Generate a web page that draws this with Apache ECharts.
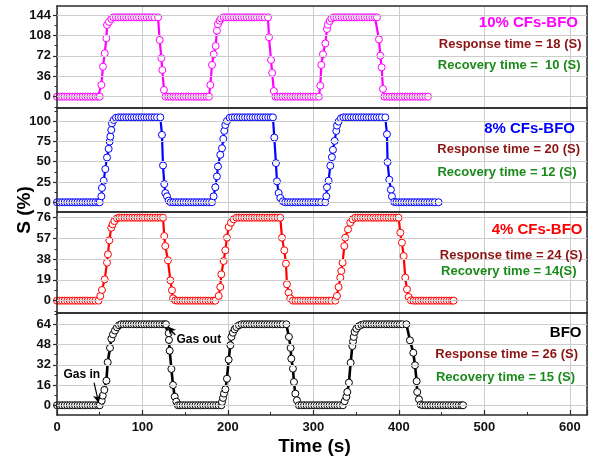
<!DOCTYPE html>
<html>
<head>
<meta charset="utf-8">
<script src="https://cdn.jsdelivr.net/npm/echarts@6/dist/echarts.min.js"></script>
<style>
  html, body { margin: 0; padding: 0; background: #fff; }
  #chart { width: 589px; height: 464px; }
</style>
</head>
<body>
<div id="chart"></div>
<script>
// Gas response curves: time (s) vs sensitivity S (%), one panel per composition.
const cfs10 = [
  [0,0],[3,0],[6,0],[9,0],[12,0],[15,0],[18,0],[21,0],[24,0],[27,0],[30,0],[33,0],[36,0],[39,0],[42,0],[45,0],[48,0],[50,0],
  [51.9,20.6],[53.8,53],[55.8,76.6],[57.8,103],[58.5,126.5],[60.8,132],[63.6,137],[66,140],
  [69,140],[72,140],[75,140],[78,140],[81,140],[84,140],[87,140],[90,140],[93,140],[96,140],[99,140],[102,140],[105,140],[108,140],[111,140],[114,140],[118.2,140],
  [120.1,100],[122.1,68],[123.2,47],[125.1,12],[127,0],
  [130,0],[133,0],[136,0],[139,0],[142,0],[145,0],[148,0],[151,0],[154,0],[157,0],[160,0],[163,0],[166,0],[169,0],[172,0],[175,0],[177.8,0],
  [179.4,20.6],[181.3,56],[183.3,74.8],[185.6,89.4],[187.1,116.4],[188.3,128],[190.3,134],[192,138],
  [195,140],[198,140],[201,140],[204,140],[207,140],[210,140],[213,140],[216,140],[219,140],[222,140],[225,140],[228,140],[231,140],[234,140],[237,140],[240,140],[243,140],[246.8,140],
  [248,104.8],[250.4,64.7],[251.7,42],[253.7,10],[255.4,0],
  [258,0],[261,0],[264,0],[267,0],[270,0],[273,0],[276,0],[279,0],[282,0],[285,0],[288,0],[291,0],[294,0],[297,0],[300,0],[303,0],[306.4,0],
  [308,19.4],[309.2,56],[311.1,74.8],[313.9,94],[315.8,119.4],[316.8,127],[319,133.5],[321,138],
  [324,140],[327,140],[330,140],[333,140],[336,140],[339,140],[342,140],[345,140],[348,140],[351,140],[354,140],[357,140],[360,140],[363,140],[366,140],[369,140],[372,140],[374.3,140],
  [376.6,101],[378.2,72.3],[379.8,51.8],[381.3,13.6],[383,0],
  [386,0],[389,0],[392,0],[395,0],[398,0],[401,0],[404,0],[407,0],[410,0],[413,0],[416,0],[419,0],[422,0],[425,0],[428,0],[431,0],[434,0]
];

const cfs8 = [
  [0,0],[3,0],[6,0],[9,0],[12,0],[15,0],[18,0],[21,0],[24,0],[27,0],[30,0],[33,0],[36,0],[39,0],[42,0],[45,0],[48,0],[50,0],
  [51.9,7.3],[52.6,17.6],[54.6,26.5],[56.5,40.8],[58.5,55.1],[60.4,65.7],[61.6,74.7],[62.4,80.8],[63.5,89],[64.3,97.1],[66.3,101.2],[69,104],
  [72,104.5],[75,104.5],[78,104.5],[81,104.5],[84,104.5],[87,104.5],[90,104.5],[93,104.5],[96,104.5],[99,104.5],[102,104.5],[105,104.5],[108,104.5],[111,104.5],[114,104.5],[117,104.5],[120.9,104.5],
  [122.8,82.9],[124,45.3],[125.5,22.4],[126.7,11.4],[128.7,7.3],[130.6,2],
  [133,0],[136,0],[139,0],[142,0],[145,0],[148,0],[151,0],[154,0],[157,0],[160,0],[163,0],[166,0],[169,0],[172,0],[175,0],[178,0],[181.3,0],
  [183.2,7.3],[185.2,18.4],[187.1,31.8],[188.3,44],[191,58.4],[193,66.5],[194.5,78],[195.7,87.8],[196.9,95.1],[198.8,100],[202,104],
  [205,104.5],[208,104.5],[211,104.5],[214,104.5],[217,104.5],[220,104.5],[223,104.5],[226,104.5],[229,104.5],[232,104.5],[235,104.5],[238,104.5],[241,104.5],[244,104.5],[247,104.5],[250,104.5],[252.6,104.5],
  [254.2,79.6],[256.1,48.2],[257.3,25.7],[259.3,11.4],[261.2,5.3],[264.3,1.2],
  [267,0],[270,0],[273,0],[276,0],[279,0],[282,0],[285,0],[288,0],[291,0],[294,0],[297,0],[300,0],[303,0],[306,0],[309,0],[313.8,0],
  [315,7.3],[315.8,18.4],[317.7,26.5],[319.7,44.9],[321.6,55.5],[322.8,64.5],[324.8,75.5],[326.7,87.8],[327.5,94.3],[329.4,99.2],[332.2,103.3],
  [335,104.5],[338,104.5],[341,104.5],[344,104.5],[347,104.5],[350,104.5],[353,104.5],[356,104.5],[359,104.5],[362,104.5],[365,104.5],[368,104.5],[371,104.5],[374,104.5],[377,104.5],[380,104.5],[384,104.5],
  [386,83.7],[386.7,49.4],[388.7,27.8],[390.6,15.5],[391.8,7.3],[394.5,0.4],
  [397,0],[400,0],[403,0],[406,0],[409,0],[412,0],[415,0],[418,0],[421,0],[424,0],[427,0],[430,0],[433,0],[436,0],[439,0],[442,0],[446.4,0]
];

const cfs4 = [
  [0,0],[3,0],[6,0],[9,0],[12,0],[15,0],[18,0],[21,0],[24,0],[27,0],[30,0],[33,0],[36,0],[39,0],[42,0],[45,0],[48.7,0],
  [50.7,4.3],[52.6,9.8],[55.8,19.5],[58.5,34.8],[59.6,42.4],[61.2,55.2],[63.5,66.8],[65.1,69.9],[67.1,72.9],[70.2,75.4],
  [73,76],[76,76],[79,76],[82,76],[85,76],[88,76],[91,76],[94,76],[97,76],[100,76],[103,76],[106,76],[109,76],[112,76],[115,76],[118,76],[121,76],[124,76],
  [125.5,59.2],[126.7,50],[129.8,36.9],[132.6,18.6],[134.5,9.5],[135.7,2.1],[138.4,0.3],
  [141,0],[144,0],[147,0],[150,0],[153,0],[156,0],[159,0],[162,0],[165,0],[168,0],[171,0],[174,0],[177,0],[180,0],[183,0],[185.2,0],
  [189.1,4.3],[191,12.5],[192.2,24.1],[194.9,36.3],[196.9,46.1],[198.8,57.7],[200.8,67.4],[203.5,71.4],[206.6,74.5],
  [210,76],[213,76],[216,76],[219,76],[222,76],[225,76],[228,76],[231,76],[234,76],[237,76],[240,76],[243,76],[246,76],[249,76],[252,76],[255,76],[258,76],[261.2,76],
  [263.2,57.7],[265.9,46.1],[267.8,33.9],[269,15],[271,7.3],[272.9,2.1],[276,0],
  [279,0],[282,0],[285,0],[288,0],[291,0],[294,0],[297,0],[300,0],[303,0],[306,0],[309,0],[312,0],[315,0],[318,0],[321,0],[325.5,0],
  [327.5,4.3],[329.4,12.5],[331.4,21.1],[332.6,27.2],[334.1,34.8],[336.1,50],[337.2,57.7],[340.4,65.3],[343.1,71.4],[345.8,74.5],
  [349,76],[352,76],[355,76],[358,76],[361,76],[364,76],[367,76],[370,76],[373,76],[376,76],[379,76],[382,76],[385,76],[388,76],[391,76],[394,76],[397,76],[399.6,76],
  [401.6,62.3],[403.5,53.1],[405.5,40.9],[407.4,21.1],[409.4,10.4],[411.3,3.4],[414,0.3],
  [417,0],[420,0],[423,0],[426,0],[429,0],[432,0],[435,0],[438,0],[441,0],[444,0],[447,0],[450,0],[453,0],[456,0],[459,0],[462,0],[464,0]
];

const bfo = [
  [0,0],[3,0],[6,0],[9,0],[12,0],[15,0],[18,0],[21,0],[24,0],[27,0],[30,0],[33,0],[36,0],[39,0],[42,0],[45,0],[48,0],[50,0],
  [52.3,3.6],[53.5,7.6],[55.4,12.1],[57.8,19.4],[59.3,34],[62,45.3],[63.6,52.6],[65.5,56],[67.8,59],[70.2,61.6],[72.5,63.2],
  [75,64],[78,64],[81,64],[84,64],[87,64],[90,64],[93,64],[96,64],[99,64],[102,64],[105,64],[108,64],[111,64],[114,64],[117,64],[120,64],[123,64],[126,64],[127.5,64],
  [130.6,56.9],[131,51.6],[131.8,43.1],[133.8,28.7],[135.7,16],[137.7,6.8],[139.6,2.9],[141.5,0],
  [144,0],[147,0],[150,0],[153,0],[156,0],[159,0],[162,0],[165,0],[168,0],[171,0],[174,0],[177,0],[180,0],[183,0],[186,0],[189,0],[192.3,0],
  [193,2.6],[194.2,5.8],[195.3,9.2],[197,12.6],[198.8,21],[200.8,36],[202.8,47.4],[204,54],[205.8,57.3],[207.8,60],[209.8,61.8],[212.9,63.2],
  [216,64],[219,64],[222,64],[225,64],[228,64],[231,64],[234,64],[237,64],[240,64],[243,64],[246,64],[249,64],[252,64],[255,64],[258,64],[261,64],[264,64],[268.3,64],
  [271.3,54],[273.3,45.3],[274.1,36.8],[276,28.9],[277.2,18.4],[278.8,9.2],[280.7,3.9],[283,0],
  [286,0],[289,0],[292,0],[295,0],[298,0],[301,0],[304,0],[307,0],[310,0],[313,0],[316,0],[319,0],[322,0],[325,0],[328,0],[331,0],[334.5,0],
  [336.5,3.2],[338.5,6.6],[339.6,10.5],[341.5,17.9],[343.5,33.6],[345.5,46.8],[346.3,50.5],[347.1,54],[348.2,57.9],[350.2,60.5],[352.9,62.4],[356,63.5],
  [359,64],[362,64],[365,64],[368,64],[371,64],[374,64],[377,64],[380,64],[383,64],[386,64],[389,64],[392,64],[395,64],[398,64],[401,64],[404,64],[408.7,64],
  [412.9,51.3],[416.8,41.5],[418.8,31.6],[420.7,19],[421.4,10.5],[423.4,4.7],[425.4,0.5],
  [428,0],[431,0],[434,0],[437,0],[440,0],[443,0],[446,0],[449,0],[452,0],[455,0],[458,0],[461,0],[464,0],[467,0],[470,0],[473,0],[475,0]
];

// Y tick labels (major) and minor tick positions per panel, top to bottom
const majorTicks = [
  [0, 36, 72, 108, 144],
  [0, 25, 50, 75, 100],
  [0, 19, 38, 57, 76],
  [0, 16, 32, 48, 64]
];
const minorTicks = [
  [-18, 18, 54, 90, 126],
  [12.5, 37.5, 62.5, 87.5, 112.5],
  [-9.5, 9.5, 28.5, 47.5, 66.5],
  [8, 24, 40, 56, 72]
];
const yRanges = [[-20, 160], [-12, 116], [-11.3, 81.2], [-7.7, 72.9]];
const xRange = [0, 620];

const panelTitles = ['10% CFs-BFO', '8% CFs-BFO', '4% CFs-BFO', 'BFO'];
const responseTexts = ['Response time = 18 (S)', 'Response time = 20 (S)', 'Response time = 24 (S)', 'Response time = 26 (S)'];
const recoveryTexts = ['Recovery time =  10 (S)', 'Recovery time = 12 (S)', 'Recovery time = 14(S)', 'Recovery time = 15 (S)'];

// Arrow annotations on the BFO panel, in data coordinates [start, end]
const gasInArrow = [[43.3, 17.9], [48.8, 1.8]];
const gasOutArrow = [[138.5, 55.5], [129.5, 62.2]];

const seriesData = [cfs10, cfs8, cfs4, bfo];
const seriesColors = ['#ff00ff', '#0000ff', '#ff0000', '#000000'];
const titleColors = ['#ff00ff', '#0000ff', '#ff0000', '#000000'];
const FONT = '"Liberation Sans", Arial, Helvetica, sans-serif';
const GRID_COLOR = '#cccccc';
const FRAME_COLOR = '#2a2a2a';

const gridBoxes = [
  { top: 6, height: 102 },
  { top: 108, height: 104 },
  { top: 212, height: 101 },
  { top: 313, height: 102 }
];

const grids = gridBoxes.map(b => ({
  left: 57, width: 530, top: b.top, height: b.height, show: false
}));

// bottom x axes (with the light vertical grid)
const xAxesBottom = gridBoxes.map((b, i) => {
  const bottom = i === 3;
  return {
    type: 'value', gridIndex: i, position: 'bottom', min: xRange[0], max: xRange[1], interval: 100,
    axisLine: { show: true, onZero: false, lineStyle: { color: FRAME_COLOR, width: 1.5 } },
    axisTick: { show: bottom, inside: true, length: 5, lineStyle: { color: FRAME_COLOR, width: 1.2 } },
    minorTick: { show: bottom, splitNumber: 2, length: 3, lineStyle: { color: FRAME_COLOR, width: 1 } },
    axisLabel: {
      show: bottom, margin: 6, showMaxLabel: false,
      fontFamily: FONT, fontWeight: 'bold', fontSize: 13, color: '#111'
    },
    splitLine: { show: true, lineStyle: { color: GRID_COLOR, width: 1, type: 'solid' } },
    z: 1
  };
});

// top frame edge of each panel
const xAxesTop = gridBoxes.map((b, i) => ({
  type: 'value', gridIndex: i, position: 'top', min: xRange[0], max: xRange[1],
  axisLine: { show: true, onZero: false, lineStyle: { color: FRAME_COLOR, width: 1.5 } },
  axisTick: { show: false }, axisLabel: { show: false }, splitLine: { show: false }, z: 4
}));

const yAxesMajor = gridBoxes.map((b, i) => ({
  type: 'value', gridIndex: i, position: 'left', min: yRanges[i][0], max: yRanges[i][1],
  axisLine: { show: true, onZero: false, lineStyle: { color: FRAME_COLOR, width: 1.5 } },
  axisTick: { show: true, length: 4, customValues: majorTicks[i], lineStyle: { color: FRAME_COLOR, width: 1.2 } },
  axisLabel: {
    show: true, customValues: majorTicks[i], margin: 6,
    fontFamily: FONT, fontWeight: 'bold', fontSize: 13, color: '#111'
  },
  splitLine: { show: false },
  z: 4
}));

const yAxesMinor = gridBoxes.map((b, i) => ({
  type: 'value', gridIndex: i, position: 'left', min: yRanges[i][0], max: yRanges[i][1],
  axisLine: { show: false, onZero: false },
  axisTick: { show: true, length: 2.5, customValues: minorTicks[i], lineStyle: { color: FRAME_COLOR, width: 1 } },
  axisLabel: { show: false },
  splitLine: { show: false }
}));

// right frame edge of each panel
const yAxesRight = gridBoxes.map((b, i) => ({
  type: 'value', gridIndex: i, position: 'right', min: yRanges[i][0], max: yRanges[i][1],
  axisLine: { show: true, onZero: false, lineStyle: { color: FRAME_COLOR, width: 1.5 } },
  axisTick: { show: false }, axisLabel: { show: false }, splitLine: { show: false }, z: 4
}));

const series = seriesData.map((d, i) => ({
  type: 'line', xAxisIndex: i, yAxisIndex: i, data: d,
  symbol: 'circle', symbolSize: 7, showSymbol: true, showAllSymbol: true,
  lineStyle: { color: seriesColors[i], width: i === 3 ? 2.6 : 2.2 },
  itemStyle: { color: '#ffffff', borderColor: seriesColors[i], borderWidth: 1 },
  emphasis: { disabled: true },
  z: 3,
  // horizontal reference lines at the labelled y ticks
  markLine: {
    silent: true, animation: false, symbol: ['none', 'none'],
    label: { show: false },
    lineStyle: { color: GRID_COLOR, width: 1, type: 'solid' },
    data: majorTicks[i].map(v => ({ yAxis: v }))
  }
}));

// arrows pointing at gas in / gas out instants
series.push({
  type: 'line', xAxisIndex: 3, yAxisIndex: 3, data: [], z: 4,
  markLine: {
    silent: true, animation: false,
    symbol: ['none', 'arrow'], symbolSize: [6, 8],
    label: { show: false },
    lineStyle: { color: '#000', width: 1.2, type: 'solid' },
    data: [
      [{ coord: gasInArrow[0] }, { coord: gasInArrow[1] }],
      [{ coord: gasOutArrow[0] }, { coord: gasOutArrow[1] }]
    ]
  }
});

function txt(text, x, y, size, color, align) {
  return {
    type: 'text', x: x, y: y, z: 10,
    style: {
      text: text, fill: color, font: 'bold ' + size + 'px ' + FONT,
      align: align, textAlign: align, verticalAlign: 'middle', textVerticalAlign: 'middle'
    }
  };
}

const titleRight = [578, 575, 582.5, 581.5];
const titleY = [22.7, 129.3, 230, 333.3];
const respRight = [581.5, 580, 582.5, 578];
const respY = [44.3, 149.3, 255, 354.3];
const recRight = [580.5, 576.5, 576.5, 575];
const recY = [65, 172.3, 271.7, 377.7];

const graphics = [];
for (let i = 0; i < 4; i++) {
  graphics.push(txt(panelTitles[i], titleRight[i], titleY[i], 15, titleColors[i], 'right'));
  graphics.push(txt(responseTexts[i], respRight[i], respY[i], 13, '#8c1414', 'right'));
  graphics.push(txt(recoveryTexts[i], recRight[i], recY[i], 13, '#1a8a1a', 'right'));
}
graphics.push(txt('Gas in', 63.5, 375, 12, '#000', 'left'));
graphics.push(txt('Gas out', 176.5, 340, 12, '#000', 'left'));
graphics.push(txt('Time (s)', 314.5, 447, 19, '#000', 'center'));
graphics.push({
  type: 'text', x: 25, y: 210, rotation: Math.PI / 2, z: 10,
  style: {
    text: 'S (%)', fill: '#000', font: 'bold 19px ' + FONT,
    align: 'center', textAlign: 'center', verticalAlign: 'middle', textVerticalAlign: 'middle'
  }
});

const chart = echarts.init(document.getElementById('chart'), null, { renderer: 'canvas' });
chart.setOption({
  animation: false,
  backgroundColor: '#ffffff',
  grid: grids,
  xAxis: xAxesBottom.concat(xAxesTop),
  yAxis: yAxesMajor.concat(yAxesMinor, yAxesRight),
  series: series,
  graphic: graphics
});
</script>
</body>
</html>
